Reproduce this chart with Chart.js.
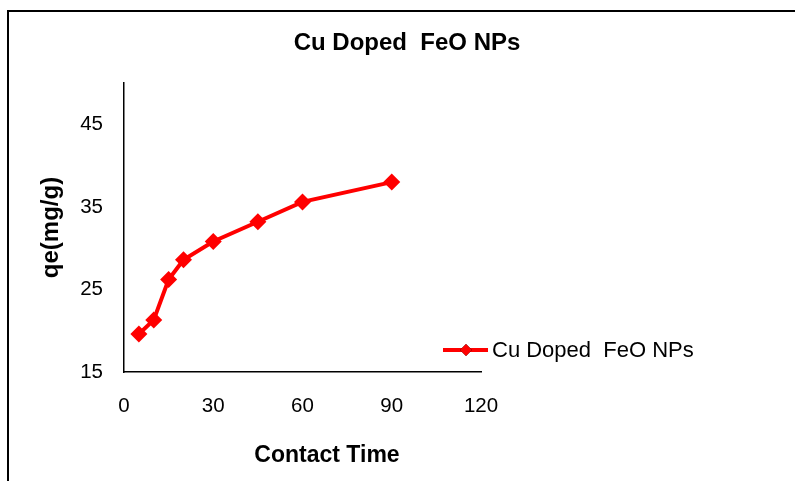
<!DOCTYPE html>
<html>
<head>
<meta charset="utf-8">
<script src="https://cdn.jsdelivr.net/npm/chart.js@4.4.0/dist/chart.umd.min.js"></script>
<style>
    body { margin: 0; background: #fff; }
    #wrap { position: relative; width: 795px; height: 481px; }
</style>
</head>
<body>
<div id="wrap"><canvas id="qeChart" width="795" height="481"></canvas></div>
<script>
const contactTime = [5, 10, 15, 20, 30, 45, 60, 90];
const qeValues = [19.6, 21.3, 26.2, 28.6, 30.8, 33.2, 35.6, 38.0];
const xTicks = [0, 30, 60, 90, 120];
const yTicks = [15, 25, 35, 45];
const seriesName = "Cu Doped  FeO NPs";
const chartTitle = "Cu Doped  FeO NPs";
const xTitle = "Contact Time";

const fontFamily = "'Liberation Sans', Arial, sans-serif";

// frame lines, title, x title (sits off-centre) and the legend entry are drawn by hand
const framePlugin = {
    id: "frame",
    beforeDraw(chart) {
        const ctx = chart.ctx;
        ctx.save();
        ctx.fillStyle = "#fff";
        ctx.fillRect(0, 0, chart.width, chart.height);
        ctx.strokeStyle = "#000";
        ctx.lineWidth = 2;
        ctx.beginPath();
        ctx.moveTo(8, chart.height);
        ctx.lineTo(8, 11);
        ctx.lineTo(chart.width, 11);
        ctx.stroke();
        ctx.restore();
    },
    afterDraw(chart) {
        const ctx = chart.ctx;
        const ds = chart.data.datasets[0];
        ctx.save();
        ctx.fillStyle = "#000";
        ctx.textBaseline = "middle";
        ctx.textAlign = "center";
        ctx.font = "bold 24px " + fontFamily;
        ctx.fillText(chartTitle, 407, 43);

        ctx.font = "bold 23px " + fontFamily;
        ctx.fillText(xTitle, 327, 456);

        // legend
        const ly = 350;
        ctx.strokeStyle = ds.borderColor;
        ctx.lineWidth = 4;
        ctx.beginPath();
        ctx.moveTo(443, ly);
        ctx.lineTo(488, ly);
        ctx.stroke();
        Chart.helpers.drawPoint(ctx, { pointStyle: "rectRot", radius: 6, borderWidth: 0 }, 466, ly);
        ctx.fillStyle = ds.pointBackgroundColor;
        ctx.fill();
        ctx.fillStyle = "#000";
        ctx.textAlign = "left";
        ctx.font = "22px " + fontFamily;
        ctx.fillText(ds.label, 492, ly + 1);
        ctx.restore();
    },
};

new Chart(document.getElementById("qeChart"), {
    type: "line",
    data: {
        datasets: [
            {
                label: seriesName,
                data: contactTime.map((t, i) => ({ x: t, y: qeValues[i] })),
                borderColor: "#ff0000",
                backgroundColor: "#ff0000",
                pointBackgroundColor: "#ff0000",
                pointBorderColor: "#ff0000",
                borderWidth: 4,
                pointStyle: "rectRot",
                pointRadius: 8.5,
                pointBorderWidth: 0,
                tension: 0,
            },
        ],
    },
    options: {
        responsive: false,
        animation: false,
        layout: { padding: { top: 83, right: 314, left: 0, bottom: 0 } },
        plugins: {
            legend: { display: false },
            title: { display: false },
            tooltip: { enabled: false },
        },
        scales: {
            x: {
                type: "linear",
                min: 0,
                max: 120,
                afterBuildTicks: (scale) => { scale.ticks = xTicks.map((v) => ({ value: v })); },
                afterFit: (scale) => { scale.height = 109; },
                grid: { display: false, drawTicks: false },
                border: { display: true, color: "#000", width: 1.5 },
                ticks: { color: "#000", padding: 22, font: { family: fontFamily, size: 20.5 } },
                title: { display: false },
            },
            y: {
                min: 15,
                max: 50,
                afterBuildTicks: (scale) => { scale.ticks = yTicks.map((v) => ({ value: v })); },
                afterFit: (scale) => { scale.width = 124; },
                grid: { display: false, drawTicks: false },
                border: { display: true, color: "#000", width: 1.5 },
                ticks: { color: "#000", padding: 21, font: { family: fontFamily, size: 20.5 } },
                title: {
                    display: true,
                    text: "qe(mg/g)",
                    color: "#000",
                    font: { family: fontFamily, size: 24, weight: "bold" },
                    padding: { top: 37, bottom: 0 },
                },
            },
        },
    },
    plugins: [framePlugin],
});
</script>
</body>
</html>
